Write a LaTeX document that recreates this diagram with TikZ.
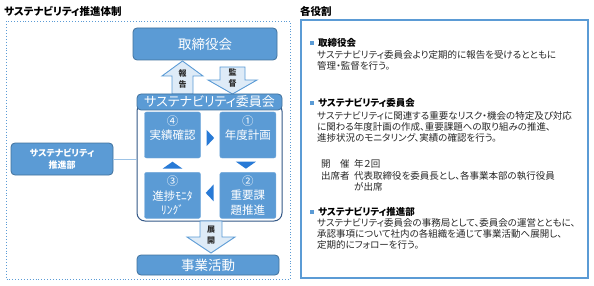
\documentclass[tikz,border=0pt]{standalone}
\usepackage{fontspec}
\setmainfont{Noto Sans CJK JP}[RawFeature=+palt]
\usetikzlibrary{positioning,calc}

\definecolor{boxblue}{RGB}{91,155,213}
\definecolor{boxedge}{RGB}{65,113,156}
\definecolor{frameedge}{RGB}{52,88,135}
\definecolor{arrowfill}{RGB}{222,235,247}
\definecolor{turnblue}{RGB}{40,122,214}
\definecolor{linkblue}{RGB}{157,195,230}
\definecolor{labelgray}{RGB}{45,45,45}

\begin{document}
\begin{tikzpicture}[x=1pt, y=-1pt]
    % Define styles
    \tikzstyle{mainbox} = [rectangle, draw=boxedge, fill=boxblue, rounded corners=4pt, line width=0.8pt, text=white, inner sep=0pt]
    \tikzstyle{stepbox} = [rectangle, draw=boxblue!85, fill=boxblue, rounded corners=2pt, text=white, minimum width=56pt, minimum height=46pt, inner sep=0pt, align=center, font=\fontsize{11.5}{14.5}\selectfont]
    \tikzstyle{blockarrow} = [draw=boxblue, fill=arrowfill, line width=0.9pt]
    \tikzstyle{arrowlabel} = [text=labelgray, inner sep=0pt, align=center, font=\bfseries\fontsize{8}{11}\selectfont]
    \tikzstyle{turn} = [fill=turnblue]
    \tikzstyle{title} = [anchor=west, inner sep=0pt, font=\bfseries\fontsize{10.5}{12}\selectfont]
    \tikzstyle{bulletsq} = [rectangle, fill=boxblue, minimum size=4pt, inner sep=0pt]
    \tikzstyle{rolehead} = [anchor=west, inner sep=0pt, font=\bfseries\fontsize{9.5}{11}\selectfont]
    \tikzstyle{rolebody} = [anchor=north west, inner sep=0pt, align=left, text=black!85, font=\fontsize{9.5}{11}\selectfont]

    \useasboundingbox (0,0) rectangle (594,286);

    % Frames and titles
    \node (system) [draw=boxblue, dotted, line width=0.9pt, minimum width=284pt, minimum height=258pt] at (148.5,150) {};
    \node (roles) [draw=boxblue, line width=1.2pt, minimum width=287pt, minimum height=258pt] at (444.5,149) {};
    \node (systemtitle) [title] at (4,11) {サステナビリティ推進体制};
    \node (rolestitle) [title] at (300,11) {各役割};

    % Board
    \node (board) [mainbox, minimum width=144pt, minimum height=32pt, font=\fontsize{13.5}{14}\selectfont] at (205,44) {取締役会};

    % Report / audit arrows
    \draw [blockarrow] (172,94) -- (172,76) -- (162,76) -- (182.5,61) -- (203,76) -- (193,76) -- (193,94) -- cycle;
    \draw [blockarrow] (220,67) -- (245,67) -- (245,80) -- (257,80) -- (232.5,94) -- (208,80) -- (220,80) -- cycle;
    \node (report) [arrowlabel] at (182.5,79) {報\\告};
    \node (audit) [arrowlabel] at (232.5,78) {監\\督};

    % Committee
    \node (committee) [draw=frameedge, fill=white, rounded corners=8pt, line width=1pt, minimum width=145pt, minimum height=118pt] at (209.5,162) {};
    \node (commtitle) [mainbox, minimum width=145pt, minimum height=16pt, font=\fontsize{13}{13}\selectfont] at (209.5,102) {サステナビリティ委員会};

    % PDCA steps
    \node (check) [stepbox] at (172.5,135) {④\\実績確認\\\mbox{}};
    \node (plan) [stepbox, right=19pt of check] {①\\年度計画\\\mbox{}};
    \node (monitor) [stepbox, below=14pt of check] {③\\進捗ﾓﾆﾀ\\ﾘﾝｸﾞ};
    \node (promote) [stepbox, below=14pt of plan] {②\\重要課\\題推進};

    % Cycle marks
    \fill [turn] ($(check.east)!0.5!(plan.west)$) ++(-3.5,-5) -- ++(7.5,8) -- ++(-7.5,8) -- cycle;
    \fill [turn] ($(plan.south)!0.5!(promote.north)$) ++(-12,-3.5) -- ++(20,0) -- ++(-10,7) -- cycle;
    \fill [turn] ($(monitor.east)!0.5!(promote.west)$) ++(3.5,-11) -- ++(0,17) -- ++(-8,-8.5) -- cycle;
    \fill [turn] ($(check.south)!0.5!(monitor.north)$) ++(-10,3.5) -- ++(20,0) -- ++(-10,-7) -- cycle;

    % Sustainability promotion dept.
    \node (dept) [mainbox, minimum width=102pt, minimum height=32pt, align=center, font=\bfseries\fontsize{9}{12}\selectfont] at (62,159) {サステナビリティ\\推進部};
    \draw [linkblue, line width=1pt] (dept.east) -- (committee.west |- dept.east);

    % Deployment arrow
    \draw [blockarrow] (200,221) -- (222,221) -- (222,237) -- (235,237) -- (211,253) -- (187,237) -- (200,237) -- cycle;
    \node (deploy) [arrowlabel] at (211,235) {展\\開};

    % Business activities
    \node (business) [mainbox, minimum width=142pt, minimum height=20pt, font=\fontsize{13.5}{14}\selectfont] at (208,265) {事業活動};

    % Roles
    \node (bullet1) [bulletsq] at (312,43) {};
    \node (head1) [rolehead] at (318,43) {取締役会};
    \node (body1) [rolebody] at (317,50.5) {サステナビリティ委員会より定期的に報告を受けるとともに\\管理・監督を行う。};

    \node (bullet2) [bulletsq] at (312,103) {};
    \node (head2) [rolehead] at (318,103) {サステナビリティ委員会};
    \node (body2) [rolebody] at (317,111.5) {サステナビリティに関連する重要なリスク・機会の特定及び対応\\に関わる年度計画の作成、重要課題への取り組みの推進、\\進捗状況のモニタリング、実績の確認を行う。};
    \node (held) [rolebody] at (321,159.5) {開\quad 催};
    \node (heldval) [rolebody] at (354,159.5) {年２回};
    \node (attend) [rolebody] at (321,171.5) {出席者};
    \node (attendval) [rolebody] at (354,171.5) {代表取締役を委員長とし、各事業本部の執行役員\\が出席};

    \node (bullet3) [bulletsq] at (312,212) {};
    \node (head3) [rolehead] at (318,212) {サステナビリティ推進部};
    \node (body3) [rolebody] at (317,218.5) {サステナビリティ委員会の事務局として、委員会の運営とともに、\\承認事項について社内の各組織を通じて事業活動へ展開し、\\定期的にフォローを行う。};
\end{tikzpicture}
\end{document}
